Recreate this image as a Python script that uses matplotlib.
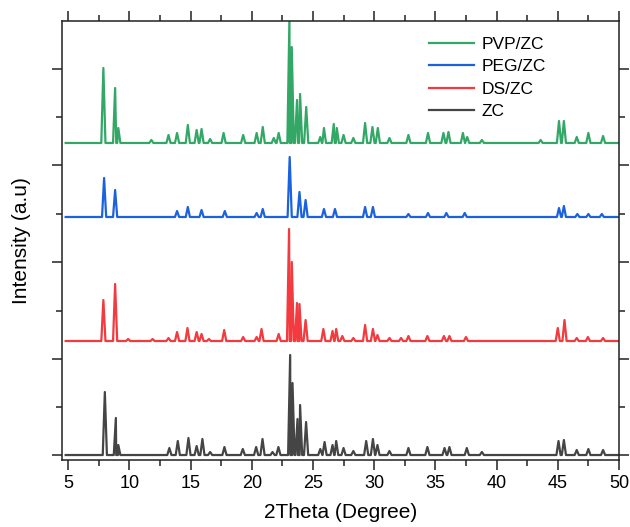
import numpy as np
import matplotlib
matplotlib.use("Agg")
import matplotlib.pyplot as plt
from matplotlib.ticker import MultipleLocator, FixedLocator

# peak positions (2theta, deg) and peak heights above each trace baseline (a.u.)
zc_pos = [8.0, 8.9, 9.1, 13.27, 13.96, 14.83, 15.5, 15.97, 16.6, 17.77, 19.27, 20.36, 20.88,
          21.7, 22.18, 23.14, 23.33, 23.74, 23.95, 24.44, 25.6, 25.95, 26.6, 26.9, 27.5, 28.3,
          29.35, 29.9, 30.27, 31.25, 32.8, 34.35, 35.75, 36.15, 37.57, 38.8, 45.06, 45.5,
          46.55, 47.5, 48.7]
zc_int = [63, 37, 10, 7, 14, 17, 9, 16, 3, 8, 6, 8, 16,
          3, 8, 100, 72, 36, 50, 33, 6, 13, 10, 14, 7, 4,
          14, 16, 10, 4, 7, 8, 7, 8, 7, 3, 14, 15,
          5, 6, 5]

ds_pos = [7.88, 8.84, 9.9, 11.9, 13.2, 13.9, 14.75, 15.5, 15.9, 16.5, 17.75, 19.3, 20.4,
          20.8, 22.2, 23.05, 23.27, 23.7, 23.9, 24.4, 25.85, 26.6, 26.9, 27.4, 28.3,
          29.26, 29.9, 30.27, 31.25, 32.2, 32.8, 34.35, 35.7, 36.15, 37.5, 45.0, 45.55,
          46.55, 47.46, 48.7]
ds_int = [41, 57, 2, 2, 3, 9, 13, 9, 7, 2, 11, 4, 4,
          12, 7, 112, 79, 38, 37, 21, 12, 10, 12, 5, 3,
          16, 12, 6, 3, 3, 5, 5, 5, 5, 4, 13, 21,
          3, 4, 3]

peg_pos = [7.94, 8.84, 13.9, 14.78, 15.9, 17.8, 20.4, 20.9, 23.1, 23.9, 24.4, 25.9, 26.8,
           29.26, 29.9, 32.8, 34.4, 35.9, 37.4, 45.1, 45.5, 46.6, 47.5, 48.6]
peg_int = [39, 27, 6, 10, 7, 6, 4, 8, 60, 25, 17, 8, 8,
           10, 10, 3, 4, 4, 4, 9, 11, 3, 3, 3]

pvp_pos = [7.88, 8.84, 9.1, 11.8, 13.2, 13.9, 14.78, 15.5, 15.9, 16.6, 17.7, 19.3, 20.4,
           20.9, 21.8, 22.2, 23.08, 23.27, 23.7, 23.95, 24.45, 25.6, 25.9, 26.7, 26.95,
           27.5, 28.3, 29.26, 29.86, 30.3, 31.25, 32.8, 34.4, 35.66, 36.07, 37.25, 37.6,
           38.8, 43.6, 45.1, 45.5, 46.55, 47.5, 48.7]
pvp_int = [75, 55, 15, 3, 8, 10, 18, 13, 14, 4, 10, 8, 10,
           16, 5, 10, 125, 96, 43, 49, 36, 6, 15, 19, 15,
           8, 5, 20, 16, 15, 5, 8, 10, 10, 11, 10, 6,
           3, 3, 22, 22, 6, 10, 7]

labels = ["ZC", "DS/ZC", "PEG/ZC", "PVP/ZC"]
offsets = [5, 119, 243, 317]
colors = ["#454545", "#F23A3F", "#1B62DE", "#33A866"]

half_width = 0.17


def trace(pos, inten):
    # baseline feet either side of each peak apex
    xs = [4.8, 50.2]
    ys = [0, 0]
    for p, h in zip(pos, inten):
        xs += [p - half_width, p, p + half_width]
        ys += [0, h, 0]
    order = np.argsort(xs, kind="stable")
    return np.array(xs)[order], np.array(ys)[order]


plt.rcParams['font.family'] = ['Liberation Sans', 'DejaVu Sans']

fig = plt.figure(figsize=(6.3, 5.27), dpi=100)
ax = fig.add_axes([0.0984, 0.1271, 0.8841, 0.8331])

series = [(zc_pos, zc_int), (ds_pos, ds_int), (peg_pos, peg_int), (pvp_pos, pvp_int)]
lines = []
for (pos, inten), off, col, lab in zip(series, offsets, colors, labels):
    x, y = trace(pos, inten)
    ln, = ax.plot(x, y + off, color=col, lw=1.6, label=lab)
    lines.append(ln)

ax.set_xlim(4.5, 50)
ax.set_ylim(0, 439)
ax.xaxis.set_major_locator(MultipleLocator(5))
ax.xaxis.set_minor_locator(MultipleLocator(2.5))
ax.yaxis.set_major_locator(FixedLocator([5, 101.5, 198, 294.5, 391]))
ax.yaxis.set_minor_locator(FixedLocator([53, 149.5, 246, 342.5]))
ax.set_yticklabels([])
ax.tick_params(which='both', direction='out', top=True, right=True, width=1.1, color='#222222')
ax.tick_params(which='major', length=7, labelsize=13)
ax.tick_params(which='minor', length=4)
for s in ax.spines.values():
    s.set_linewidth(1.1)
    s.set_color('#222222')

ax.set_xlabel("2Theta (Degree)", fontsize=15, labelpad=8)
ax.set_ylabel("Intensity (a.u)", fontsize=15, labelpad=12)

ax.legend(lines[::-1], labels[::-1], loc='upper left', bbox_to_anchor=(0.63, 1.0),
          frameon=False, fontsize=12.5, handlelength=2.6, labelspacing=0.42, handletextpad=0.45)

fig.savefig("out.png", dpi=100)
